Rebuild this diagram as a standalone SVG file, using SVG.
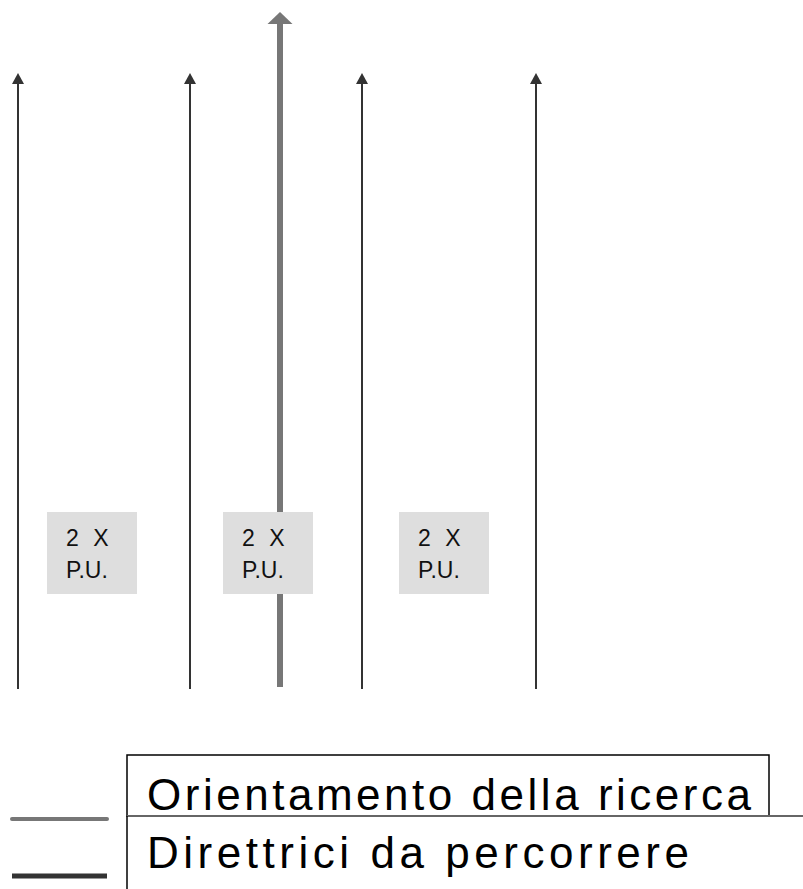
<svg xmlns="http://www.w3.org/2000/svg" width="803" height="889" viewBox="0 0 803 889">
  <defs>
    <style>
      .dir { stroke: #333; stroke-width: 2; fill: none; }
      .ori { stroke: #777; stroke-width: 6; fill: none; }
      .head-dir { fill: #333; }
      .head-ori { fill: #777; }
      .pu rect { fill: #dedede; }
      .pu text { font-family: "Liberation Sans", Arial, sans-serif; font-size: 23px; fill: #111; }
      .pu .top { word-spacing: 8px; }
      .legend text { font-family: "Liberation Sans", Arial, sans-serif; fill: #000; }
    </style>
  </defs>
  <rect width="803" height="889" fill="#fff"/>

  <!-- direction lines with arrowheads -->
  <g id="connectors">
    <line class="dir" x1="18" y1="689" x2="18" y2="82"/>
    <polygon class="head-dir" points="18,73 12,84 24,84"/>
    <line class="dir" x1="190" y1="689" x2="190" y2="82"/>
    <polygon class="head-dir" points="190,73 184,84 196,84"/>
    <line class="dir" x1="362" y1="689" x2="362" y2="82"/>
    <polygon class="head-dir" points="362,73 356,84 368,84"/>
    <line class="dir" x1="536" y1="689" x2="536" y2="82"/>
    <polygon class="head-dir" points="536,73 530,84 542,84"/>
    <line class="ori" x1="280" y1="687" x2="280" y2="22"/>
    <polygon class="head-ori" points="280,12 267.5,24 292.5,24"/>
  </g>

  <!-- P.U. labels -->
  <g id="pu1" class="pu">
    <rect x="47" y="512" width="90" height="82"/>
    <text class="top" x="66" y="546">2 X</text>
    <text x="66" y="578">P.U.</text>
  </g>
  <g id="pu2" class="pu">
    <rect x="223" y="512" width="90" height="82"/>
    <text class="top" x="242" y="546">2 X</text>
    <text x="242" y="578">P.U.</text>
  </g>
  <g id="pu3" class="pu">
    <rect x="399" y="512" width="90" height="82"/>
    <text class="top" x="418" y="546">2 X</text>
    <text x="418" y="578">P.U.</text>
  </g>

  <!-- legend -->
  <g id="legend" class="legend">
    <line x1="12" y1="819" x2="107" y2="819" stroke="#777" stroke-width="4" stroke-linecap="round"/>
    <line x1="12" y1="876" x2="107" y2="876" stroke="#333" stroke-width="5"/>
    <rect x="127" y="755" width="642" height="61" fill="none" stroke="#000" stroke-width="1.5"/>
    <line x1="127" y1="816" x2="803" y2="816" stroke="#666" stroke-width="2"/>
    <line x1="127" y1="816" x2="127" y2="889" stroke="#000" stroke-width="1.5"/>
    <text x="147" y="810" font-size="44" textLength="604" lengthAdjust="spacing">Orientamento della ricerca</text>
    <text x="147" y="868" font-size="44" textLength="542" lengthAdjust="spacing">Direttrici da percorrere</text>
  </g>
</svg>
